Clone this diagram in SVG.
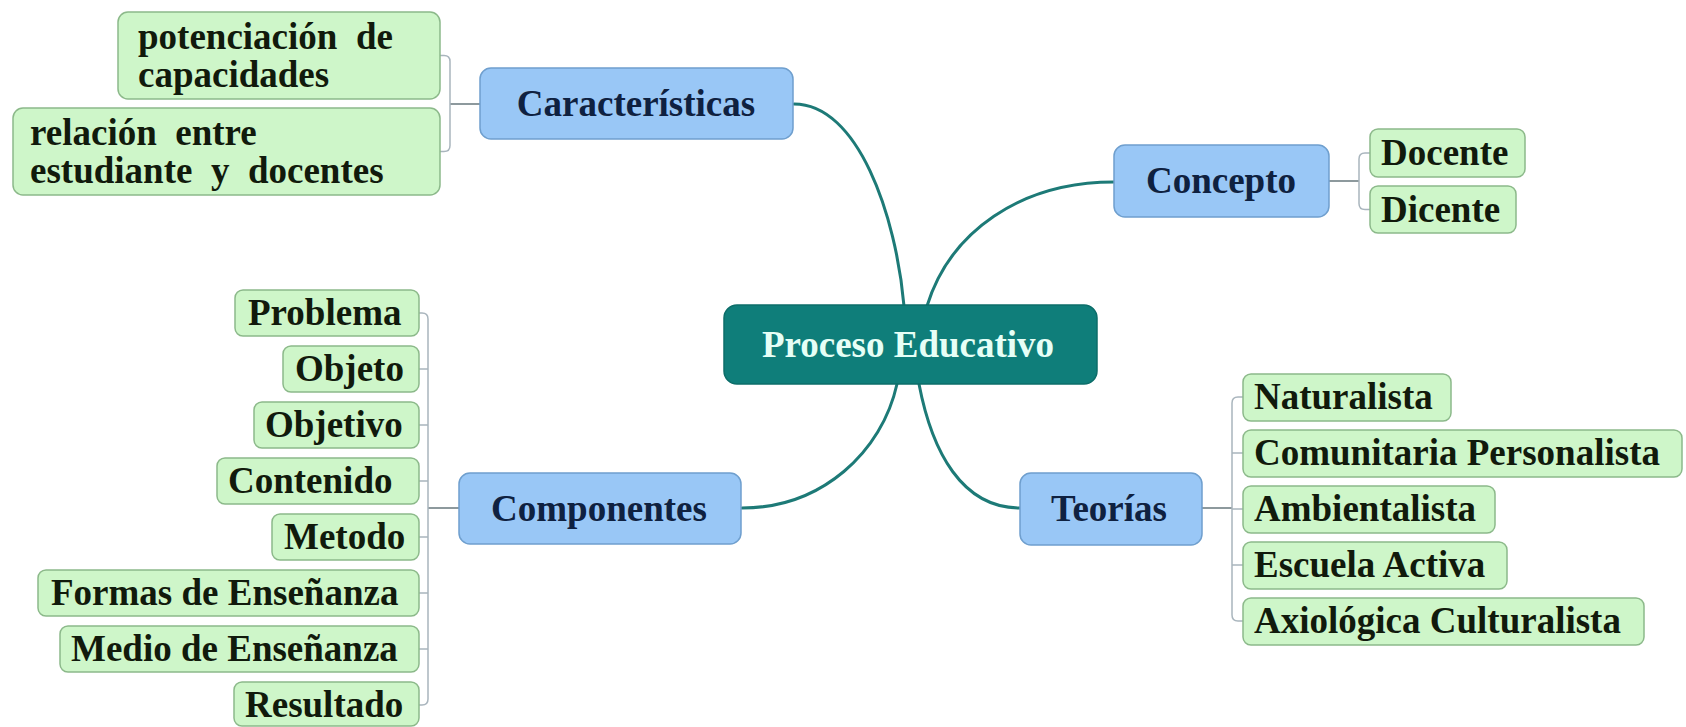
<svg xmlns="http://www.w3.org/2000/svg" width="1686" height="727" viewBox="0 0 1686 727">
<style>
text{font-family:"Liberation Serif","Times New Roman",serif;font-weight:bold;font-size:37px}
.blue rect{fill:#99c7f6;stroke:#6f9fce;stroke-width:1.5}
.blue text{fill:#0f2140;text-anchor:middle}
.green rect{fill:#cef6c9;stroke:#8cb98a;stroke-width:1.5}
.green text{fill:#111a0c}
.root rect{fill:#0f7e7a;stroke:#0c6d69;stroke-width:1.5}
.root text{fill:#e6fff6;text-anchor:middle}
.main{fill:none;stroke:#1d7a77;stroke-width:3;stroke-linecap:round}
.stub{fill:none;stroke:#67777d;stroke-width:1.5}
.br{fill:none;stroke:#a9b5bd;stroke-width:1.5}
</style>
<rect width="1686" height="727" fill="#ffffff"/>
<g id="connectors">
<path class="main" d="M794 104 C858 104 896 215 904 306"/>
<path class="main" d="M1114 182 C1020 182 950 232 927 306"/>
<path class="main" d="M897 384 C882 452 822 508 742 508"/>
<path class="main" d="M919 384 C932 452 962 508 1020 508"/>
<path class="stub" d="M480 104 H450"/>
<path class="br" d="M440 55.5 H444 Q450 55.5 450 61.5 V145.5 Q450 151.5 444 151.5 H440"/>
<path class="stub" d="M1329 181 H1359"/>
<path class="br" d="M1370 153 H1365 Q1359 153 1359 159 V203.5 Q1359 209.5 1365 209.5 H1370"/>
<path class="stub" d="M459 508 H428"/>
<path class="br" d="M419 313 H422 Q428 313 428 319 V699 Q428 705 422 705 H419 M419 369 H428 M419 425 H428 M419 481 H428 M419 537 H428 M419 593 H428 M419 649 H428"/>
<path class="stub" d="M1202 508 H1232"/>
<path class="br" d="M1243 397 H1238 Q1232 397 1232 403 V615 Q1232 621 1238 621 H1243 M1232 453 H1243 M1232 509 H1243 M1232 565 H1243"/>
</g>
<g id="root" class="root"><rect x="724" y="305" width="373" height="79" rx="13"/><text x="908" y="357">Proceso Educativo</text></g>
<g id="caracteristicas" class="blue"><rect x="480" y="68" width="313" height="71" rx="11"/><text x="636" y="116">Características</text></g>
<g id="concepto" class="blue"><rect x="1114" y="145" width="215" height="72" rx="11"/><text x="1221" y="193">Concepto</text></g>
<g id="componentes" class="blue"><rect x="459" y="473" width="282" height="71" rx="11"/><text x="599" y="521">Componentes</text></g>
<g id="teorias" class="blue"><rect x="1020" y="473" width="182" height="72" rx="11"/><text x="1109" y="521">Teorías</text></g>
<g id="potenciacion" class="green"><rect x="118" y="12" width="322" height="87" rx="10"/><text x="138" y="49">potenciación&#160; de</text><text x="138" y="87">capacidades</text></g>
<g id="relacion" class="green"><rect x="13" y="108" width="427" height="87" rx="10"/><text x="30" y="145">relación&#160; entre</text><text x="30" y="183">estudiante&#160; y&#160; docentes</text></g>
<g id="docente" class="green"><rect x="1370" y="129" width="155" height="48" rx="8"/><text x="1381" y="165">Docente</text></g>
<g id="dicente" class="green"><rect x="1370" y="186" width="146" height="47" rx="8"/><text x="1381" y="222">Dicente</text></g>
<g id="problema" class="green"><rect x="235" y="290" width="184" height="46" rx="8"/><text x="248" y="325">Problema</text></g>
<g id="objeto" class="green"><rect x="283" y="346" width="136" height="46" rx="8"/><text x="295" y="381">Objeto</text></g>
<g id="objetivo" class="green"><rect x="254" y="402" width="165" height="46" rx="8"/><text x="265" y="437">Objetivo</text></g>
<g id="contenido" class="green"><rect x="217" y="458" width="202" height="46" rx="8"/><text x="228" y="493">Contenido</text></g>
<g id="metodo" class="green"><rect x="272" y="514" width="147" height="46" rx="8"/><text x="284" y="549">Metodo</text></g>
<g id="formas" class="green"><rect x="38" y="570" width="381" height="46" rx="8"/><text x="51" y="605">Formas de Enseñanza</text></g>
<g id="medio" class="green"><rect x="60" y="626" width="359" height="46" rx="8"/><text x="71" y="661">Medio de Enseñanza</text></g>
<g id="resultado" class="green"><rect x="234" y="682" width="185" height="44" rx="8"/><text x="245" y="717">Resultado</text></g>
<g id="naturalista" class="green"><rect x="1243" y="374" width="208" height="47" rx="8"/><text x="1254" y="409">Naturalista</text></g>
<g id="comunitaria" class="green"><rect x="1243" y="430" width="439" height="47" rx="8"/><text x="1254" y="465">Comunitaria Personalista</text></g>
<g id="ambientalista" class="green"><rect x="1243" y="486" width="252" height="47" rx="8"/><text x="1254" y="521">Ambientalista</text></g>
<g id="escuela" class="green"><rect x="1243" y="542" width="264" height="47" rx="8"/><text x="1254" y="577">Escuela Activa</text></g>
<g id="axiologica" class="green"><rect x="1243" y="598" width="401" height="47" rx="8"/><text x="1254" y="633">Axiológica Culturalista</text></g>
</svg>
